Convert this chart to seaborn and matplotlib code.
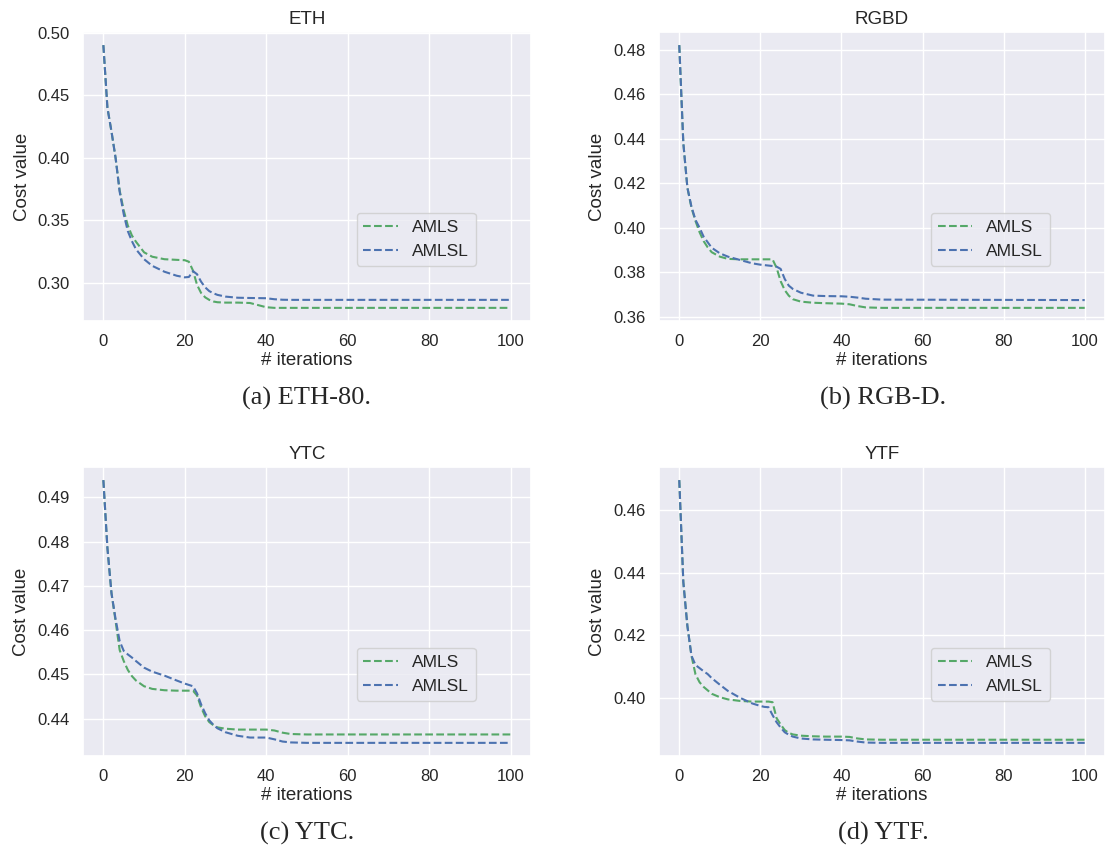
import matplotlib
matplotlib.use("Agg")
import matplotlib.pyplot as plt
from matplotlib.ticker import MultipleLocator
import seaborn as sns
import pandas as pd

# ---------------- data ----------------
iters = [0, 1, 2, 3, 4, 5, 6, 7, 8, 10, 12, 15, 18, 20, 21, 22, 23, 24, 25, 26,
         27, 28, 30, 33, 36, 40, 42, 44, 46, 50, 100]

eth_amls = [0.4902, 0.440, 0.421, 0.400, 0.374, 0.358, 0.346, 0.338, 0.333, 0.3245,
            0.321, 0.319, 0.3185, 0.3182, 0.3170, 0.310, 0.2985, 0.292, 0.2885, 0.2865,
            0.2852, 0.2846, 0.2843, 0.2843, 0.2840, 0.2806, 0.2801, 0.2801, 0.2801, 0.2801, 0.2801]
eth_amlsl = [0.4902, 0.440, 0.421, 0.400, 0.373, 0.355, 0.3415, 0.3335, 0.327, 0.319,
             0.3137, 0.309, 0.3058, 0.3045, 0.3048, 0.3095, 0.307, 0.301, 0.2965, 0.2935,
             0.2918, 0.2905, 0.2891, 0.2882, 0.2880, 0.2878, 0.2870, 0.2866, 0.2865, 0.2865, 0.2865]

rgbd_amls = [0.482, 0.438, 0.418, 0.409, 0.403, 0.398, 0.394, 0.3912, 0.389, 0.3870,
             0.3860, 0.3858, 0.3858, 0.3858, 0.3858, 0.3858, 0.3858, 0.3820, 0.3760, 0.3720,
             0.3695, 0.3679, 0.3668, 0.3663, 0.3661, 0.3659, 0.3656, 0.3648, 0.3642, 0.3640, 0.3640]
rgbd_amlsl = [0.482, 0.438, 0.418, 0.4095, 0.4035, 0.400, 0.396, 0.3935, 0.391, 0.3885,
              0.3870, 0.3855, 0.3840, 0.3834, 0.3832, 0.3830, 0.3828, 0.3825, 0.3815, 0.3770,
              0.3740, 0.3725, 0.3708, 0.3695, 0.3693, 0.3692, 0.3690, 0.3686, 0.3681, 0.3677, 0.3675]

ytc_amls = [0.4939, 0.4785, 0.4683, 0.4620, 0.4555, 0.4530, 0.4510, 0.4496, 0.4486, 0.4473,
            0.4467, 0.4464, 0.4463, 0.4463, 0.4463, 0.4463, 0.4452, 0.4425, 0.4405, 0.4392,
            0.4385, 0.4380, 0.4377, 0.4375, 0.4375, 0.4375, 0.4373, 0.4368, 0.4365, 0.4364, 0.4364]
ytc_amlsl = [0.4939, 0.4785, 0.4683, 0.4625, 0.4575, 0.4553, 0.4545, 0.4538, 0.4530, 0.4515,
             0.4506, 0.4497, 0.4486, 0.4479, 0.4476, 0.4473, 0.4457, 0.4432, 0.4412, 0.4396,
             0.4386, 0.4378, 0.4369, 0.4361, 0.4357, 0.4357, 0.4353, 0.4348, 0.4346, 0.4345, 0.4345]

ytf_amls = [0.4696, 0.4370, 0.4230, 0.4135, 0.4075, 0.4050, 0.4035, 0.4024, 0.4013, 0.4002,
            0.3995, 0.3990, 0.3988, 0.3988, 0.3988, 0.3988, 0.3986, 0.3935, 0.3915, 0.3897,
            0.3888, 0.3883, 0.3879, 0.3877, 0.3876, 0.3876, 0.3875, 0.3870, 0.3867, 0.3866, 0.3866]
ytf_amlsl = [0.4696, 0.4370, 0.4230, 0.4135, 0.4105, 0.4095, 0.4085, 0.4076, 0.4063, 0.4042,
             0.4022, 0.4000, 0.3982, 0.3974, 0.3971, 0.3970, 0.3945, 0.3922, 0.3905, 0.3890,
             0.3882, 0.3876, 0.3870, 0.3867, 0.3866, 0.3865, 0.3864, 0.3860, 0.3857, 0.3856, 0.3856]

titles = ["ETH", "RGBD", "YTC", "YTF"]
captions = ["(a) ETH-80.", "(b) RGB-D.", "(c) YTC.", "(d) YTF."]
series_names = ["AMLS", "AMLSL"]
amls_values = [eth_amls, rgbd_amls, ytc_amls, ytf_amls]
amlsl_values = [eth_amlsl, rgbd_amlsl, ytc_amlsl, ytf_amlsl]
ytick_steps = [0.05, 0.02, 0.01, 0.02]

# ---------------- style ----------------
sns.set_theme(style="darkgrid", color_codes=True)
plt.rcParams["font.family"] = ["Liberation Sans", "DejaVu Sans"]

W, H = 1105, 849
fig = plt.figure(figsize=(W / 100, H / 100), dpi=100)

# axes rectangles in pixels: (left, top, width, height)
rects_px = [(83, 32, 448, 289), (659, 32, 446, 289),
            (83, 467, 448, 289), (659, 467, 446, 289)]

for i in range(4):
    l, t, w, h = rects_px[i]
    ax = fig.add_axes([l / W, 1 - (t + h) / H, w / W, h / H])
    df = pd.DataFrame({"iter": iters, series_names[0]: amls_values[i],
                       series_names[1]: amlsl_values[i]})
    sns.lineplot(data=df, x="iter", y=series_names[0], ax=ax, color="g",
                 linestyle="--", linewidth=1.5, label=series_names[0])
    sns.lineplot(data=df, x="iter", y=series_names[1], ax=ax, color="b",
                 linestyle="--", linewidth=1.5, label=series_names[1])
    ax.yaxis.set_major_locator(MultipleLocator(ytick_steps[i]))
    ax.yaxis.set_major_formatter(plt.FormatStrFormatter("%.2f"))
    ax.set_title(titles[i], fontsize=13.5, pad=6)
    ax.set_xlabel("# iterations", fontsize=13.5, labelpad=2)
    ax.set_ylabel("Cost value", fontsize=13.5, labelpad=5)
    ax.tick_params(labelsize=12)
    ax.legend(loc="upper right", bbox_to_anchor=(0.877, 0.374), borderaxespad=0,
              fontsize=12.5, handlelength=2.0)
    cx = (l + w / 2) / W if i % 2 == 0 else (l + 224) / W
    fig.text(cx, 1 - (t + h + 77) / H, captions[i], ha="center", va="center",
             fontsize=19, family=["Liberation Serif", "DejaVu Serif"])

fig.savefig("out.png", dpi=100)
